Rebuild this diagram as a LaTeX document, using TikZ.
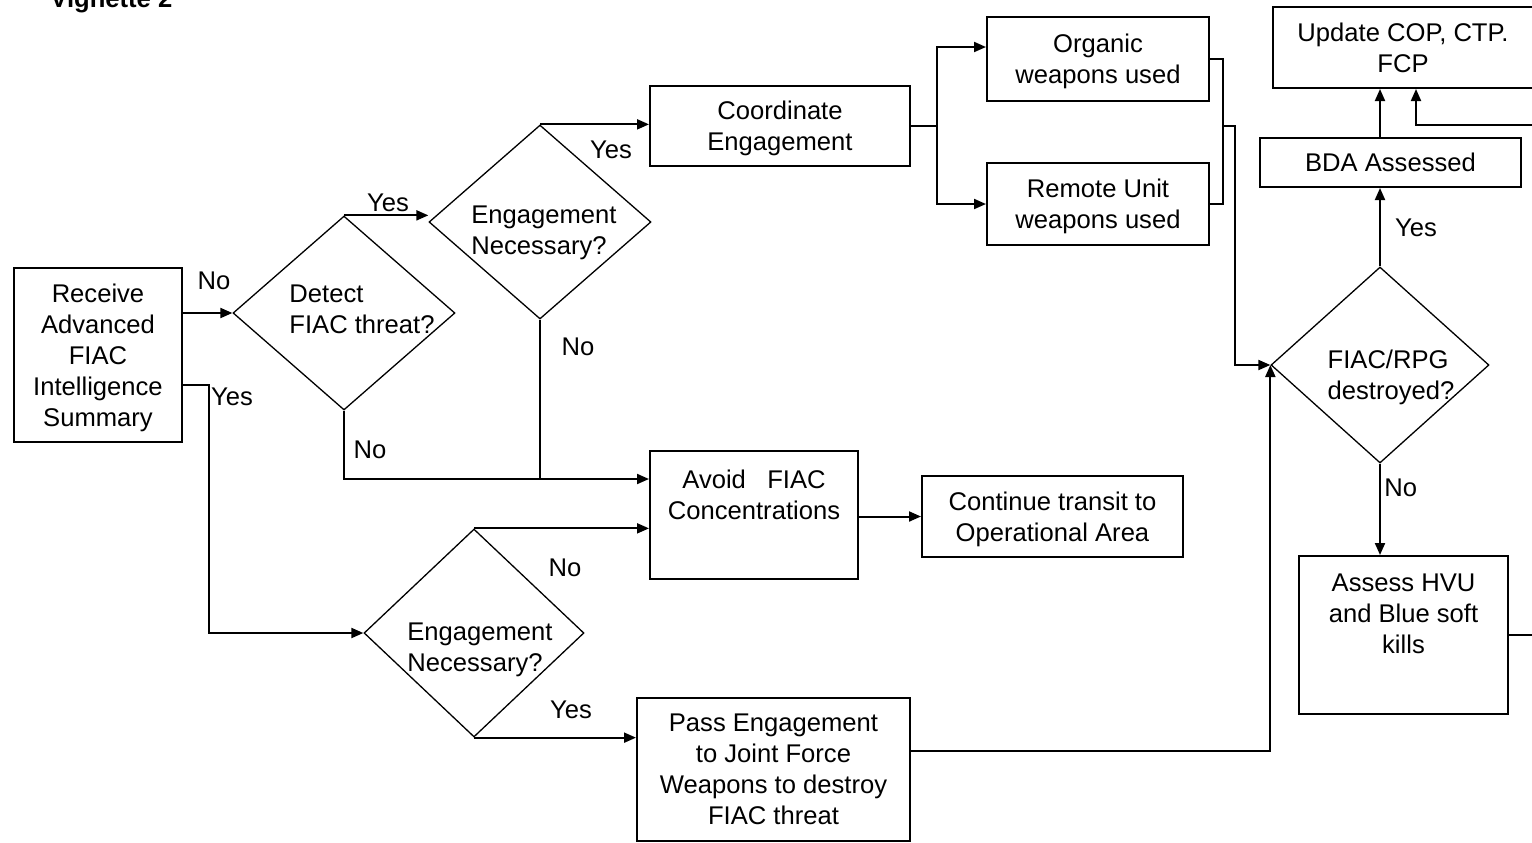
\documentclass[tikz,border=0pt]{standalone}
\usepackage{fontspec}
\setmainfont{Liberation Sans}
\usepackage{tikz}
\usetikzlibrary{arrows.meta,shapes.geometric,positioning,calc}
\tikzset{
  procbox/.style={draw, line width=1pt, align=center, inner sep=0pt,
                  text depth=0pt, minimum width=#1},
  procbox/.default=130pt,
  topbox/.style ={procbox=#1, inner ysep=0pt},
  decbox/.style ={draw, diamond, line width=0.65pt, inner sep=0pt},
  dtext/.style  ={align=left, inner sep=0pt, text depth=0pt},
  lbl/.style    ={inner sep=0pt},
  arr/.style    ={-{Triangle[length=6pt,width=5pt]}, line width=1pt},
  ln/.style     ={line width=0.8pt},
}

\begin{document}
\begin{tikzpicture}[x=0.5pt,y=-0.5pt,font=\fontsize{12.8}{15.5}\selectfont]
  \useasboundingbox (0,0) rectangle (1532,842);
  \node[lbl, font=\fontsize{12.8}{15.5}\selectfont\bfseries, anchor=base west] (title) at (50,7) {Vignette 2};

  %% boxes
  \node[procbox=84pt, minimum height=87pt] (recv) at (98,355) {Receive\\Advanced\\FIAC\\Intelligence\\Summary};
  \node[procbox=130pt, minimum height=40pt] (coord) at (780,126) {Coordinate\\Engagement};
  \node[procbox=111pt, minimum height=42pt] (organic) at (1098,59) {Organic\\weapons used};
  \node[procbox=111pt, minimum height=41pt] (remote) at (1098,204) {Remote Unit\\weapons used};
  \node[procbox=130pt, minimum height=40.5pt] (update) at (1403,47.5) {Update COP, CTP.\\FCP};
  \node[procbox=130.5pt, minimum height=24.5pt] (bda) at (1390.5,162.5) {BDA Assessed};
  \node[topbox=104.5pt, text height=48.5pt, text depth=30.5pt, anchor=north] (assess) at (1403.5,555) {Assess HVU\\and Blue soft\\kills};
  \node[topbox=104pt, text height=34pt, text depth=30pt, anchor=north] (avoid) at (754,450) {Avoid\ \ \ FIAC\\Concentrations};
  \node[procbox=130.5pt, minimum height=40.5pt] (cont) at (1052.5,516.5) {Continue transit to\\Operational Area};
  \node[procbox=136.5pt, minimum height=71.5pt] (pass) at (773.5,769.5) {Pass Engagement\\to Joint Force\\Weapons to destroy\\FIAC threat};

  %% decisions
  \node[decbox, minimum width=111pt, minimum height=97pt] (detect) at (344,313) {};
  \node[dtext] (detecttx) at (362,309.5) {Detect\\FIAC threat?};
  \node[decbox, minimum width=111pt, minimum height=97pt] (engtop) at (540,222) {};
  \node[dtext] (engtoptx) at (544,230.5) {Engagement\\Necessary?};
  \node[decbox, minimum width=110pt, minimum height=104pt] (englow) at (474,633) {};
  \node[dtext] (englowtx) at (480,647.5) {Engagement\\Necessary?};
  \node[decbox, minimum width=109pt, minimum height=98pt] (fiac) at (1380,365) {};
  \node[dtext] (fiactx) at (1391,374.5) {FIAC/RPG\\destroyed?};

  \coordinate (avoidin) at ([yshift=18pt]avoid.west);
  \coordinate (fback) at (1560,125);

  %% detection branch
  \draw[arr] (recv.east |- detect.west) -- (detect.west);
  \node[lbl] (lno1) at (214,281) {No};
  \draw[arr] ([yshift=-15pt]recv.east) -- ++(13pt,0) |- (englow.west);
  \node[lbl] (lyes1) at (232,397) {Yes};
  \draw[arr] (detect.north) -- (detect.north -| engtop.west);
  \node[lbl] (lyes2) at (388,203) {Yes};
  \draw[arr] (detect.south) |- (avoidin);
  \node[lbl] (lno2) at (370,450) {No};
  \draw[ln] (engtop.south) -- (engtop.south |- avoidin);
  \node[lbl] (lno3) at (578,347) {No};
  \draw[arr] (engtop.north) -- (engtop.north -| coord.west);
  \node[lbl] (lyes3) at (611,150) {Yes};

  %% weapons
  \draw[ln] (coord.east) -- ++(13pt,0) coordinate (split);
  \draw[arr] (split) |- ([yshift=6pt]organic.west);
  \draw[arr] (split) |- (remote.west);
  \draw[ln] (organic.east) -- ++(6.5pt,0) coordinate (wjoin) |- (remote.east);
  \draw[arr] (wjoin |- coord.east) -- ++(6pt,0) |- (fiac.west);

  %% avoid / pass on
  \draw[arr] (cont.west -| avoid.east) -- (cont.west);
  \draw[arr] (englow.north) -- (englow.north -| avoid.west);
  \node[lbl] (lno4) at (565,568) {No};
  \draw[arr] (englow.south) -- (englow.south -| pass.west);
  \node[lbl] (lyes4) at (571,710) {Yes};
  \draw[arr] ([yshift=9.25pt]pass.east) -| (fiac.west);

  %% assessment
  \draw[arr] (fiac.north) -- (fiac.north |- bda.south);
  \node[lbl] (lyes5) at (1416,228) {Yes};
  \draw[arr] (bda.north -| fiac.north) -- (update.south -| fiac.north);
  \draw[arr] (fback) -| ([xshift=6.5pt]update.south);
  \draw[arr] (fiac.south) -- (fiac.south |- assess.north);
  \node[lbl, anchor=west] (lno5) at (1384,488) {No};
  \draw[ln] (assess.east) -- ++(20pt,0);
\end{tikzpicture}
\end{document}
